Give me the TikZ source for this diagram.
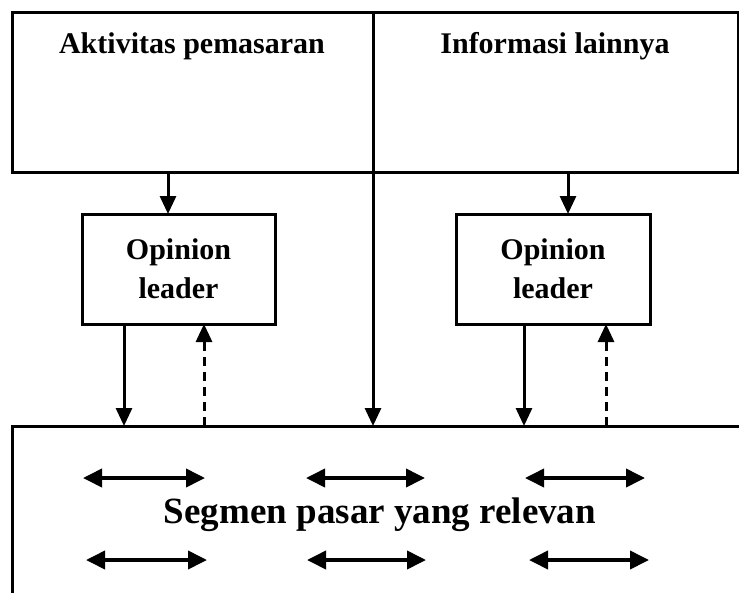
\documentclass[tikz,border=0pt]{standalone}
\usepackage{fontspec}
\setmainfont{Liberation Serif}
\usetikzlibrary{arrows.meta,positioning}

\begin{document}
\begin{tikzpicture}[x=1pt,y=-1pt,
      box/.style={rectangle,draw,line width=3pt,inner sep=0pt,outer sep=0pt},
      lbl/.style={font=\bfseries\fontsize{30}{39}\selectfont,align=center},
      arr/.style={-{Triangle[length=18pt,width=16pt]},line width=3pt},
      dasharr/.style={arr,dash pattern=on 9pt off 6pt},
      dbl/.style={{Triangle[length=19pt,width=18pt]}-{Triangle[length=19pt,width=18pt]},line width=3.8pt}]
    \useasboundingbox (0,0) rectangle (739,592);
    \clip (0,0) rectangle (739,592);
    %% ── Top sources ──────────────────────────────────────────
    \node[box,minimum width=361pt,minimum height=160pt] (aktivitas) at (192.5,92) {};
    \node[box,minimum width=365pt,minimum height=160pt] (informasi) at (555.5,92) {};
    \node[lbl] (aktivitasTxt) at (192,46) {Aktivitas pemasaran};
    \node[lbl] (informasiTxt) at (555,46) {Informasi lainnya};
    %% ── Opinion leaders ─────────────────────────────────────
    \node[box,lbl,minimum width=193pt,minimum height=110pt] (opiniL) at (178.5,269) {Opinion\\leader};
    \node[box,lbl,minimum width=194pt,minimum height=110pt] (opiniR) at (553,269) {Opinion\\leader};
    %% ── Segment box (runs past the page) ────────────────────
    \node[box,anchor=north west,minimum width=760pt,minimum height=200pt] (segmen) at (12,426) {};
    \node[font=\bfseries\fontsize{37}{40}\selectfont] (segmenTxt) at (380,515) {Segmen pasar yang relevan};
    %% ── Arrows down to the opinion leaders ──────────────────
    \draw[arr] (aktivitas.south -| 168,0) -- (opiniL.north -| 168,0);
    \draw[arr] (informasi.south -| 568,0) -- (opiniR.north -| 568,0);
    %% ── Arrows between leaders and segment ──────────────────
    \draw[arr] (opiniL.south -| 124,0) -- (segmen.north -| 124,0);
    \draw[dasharr] (segmen.north -| 204,0) -- (opiniL.south -| 204,0);
    \draw[arr] (aktivitas.south east) -- (segmen.north -| aktivitas.south east);
    \draw[arr] (opiniR.south -| 524,0) -- (segmen.north -| 524,0);
    \draw[dasharr] (segmen.north -| 606,0) -- (opiniR.south -| 606,0);
    %% ── Word of mouth inside the segment ────────────────────
    \foreach \xa/\xb/\yy in {83/205/478, 306/425/478, 525/645/478,
                             86/207/560, 307/426/560, 529/649/560}
      \draw[dbl] (\xa,\yy) -- (\xb,\yy);
  \end{tikzpicture}
\end{document}
